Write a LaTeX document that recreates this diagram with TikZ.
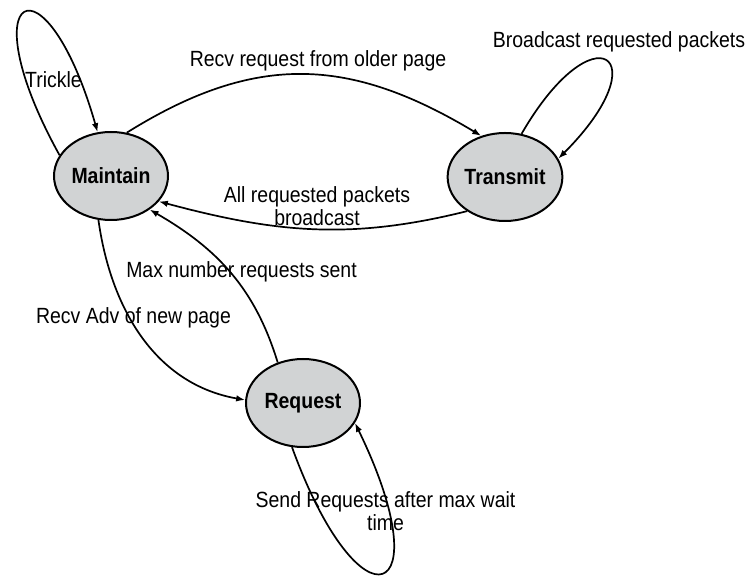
\documentclass[tikz,border=0pt]{standalone}
\usepackage{fontspec}
\setmainfont{Liberation Sans}[FakeStretch=0.885]
\usetikzlibrary{arrows.meta,shapes.geometric}
\definecolor{stategray}{RGB}{209,211,212}
\begin{document}
\begin{tikzpicture}[x=1pt,y=1pt,
  font=\fontsize{22}{23}\selectfont,
  state/.style={ellipse,draw=black,line width=2pt,fill=stategray,
    minimum width=114pt,minimum height=88pt,inner sep=0pt,font=\fontsize{22}{23}\selectfont\bfseries},
  conn/.style={draw=black,line width=1.7pt,-{Latex[length=9pt,width=6.5pt]}},
  lbl/.style={inner sep=0pt,align=center}]
\useasboundingbox (0,0) rectangle (749,583);
\node[state] (M) at (111,407) {Maintain};
\node[state] (T) at (505,406) {Transmit};
\node[state] (R) at (303,180) {Request};
% connectors
\draw[conn] (M.158) .. controls +(119:190pt) and +(106:190pt) .. (M.107);
\draw[conn] (M.70) to[out=32,in=149,looseness=1.1] (T.120);
\draw[conn] (T.222) to[out=-166,in=-15] (M.-28);
\draw[conn] (R.122) to[out=107,in=-30] (M.-41);
\draw[conn] (M.254) to[out=-82,in=170] (R.177);
\draw[conn] (R.256) .. controls +(-70:200pt) and +(-64:200pt) .. (R.-21);
\draw[conn] (T.69) .. controls +(60:145pt) and +(45:145pt) .. (T.19);
% labels
\node[lbl] (lt) at (53.5,503) {Trickle};
\node[lbl] (lr) at (318,522) {Recv request from older page};
\node[lbl] (lb) at (619,541) {Broadcast requested packets};
\node[lbl] (la) at (317,377) {All requested packets\\broadcast};
\node[lbl] (lm) at (241.5,311) {Max number requests sent};
\node[lbl] (lv) at (133.5,265) {Recv Adv of new page};
\node[lbl] (ls) at (385.5,72) {Send Requests after max wait\\time};
\end{tikzpicture}
\end{document}
